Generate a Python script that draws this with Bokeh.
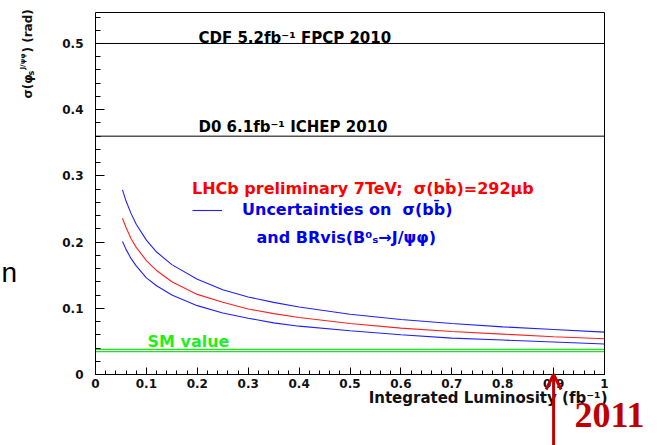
from bokeh.plotting import figure
from bokeh.models import (Range1d, FixedTicker, Label, Arrow, OpenHead, Legend,
                          LegendItem, LinearAxis)
from bokeh.embed import file_html
from bokeh.resources import INLINE

# ---------------- data ----------------
lumi = [0.053, 0.06, 0.07, 0.08, 0.1, 0.12, 0.15, 0.2, 0.25, 0.3, 0.35, 0.4,
        0.5, 0.6, 0.7, 0.8, 0.9, 1.0]
sigma_central = [0.236, 0.222, 0.205, 0.192, 0.172, 0.157, 0.140, 0.121, 0.109,
                 0.099, 0.092, 0.086, 0.077, 0.070, 0.065, 0.061, 0.057, 0.054]
sigma_upper = [0.279, 0.262, 0.243, 0.227, 0.203, 0.185, 0.166, 0.144, 0.128,
               0.117, 0.109, 0.102, 0.091, 0.083, 0.077, 0.072, 0.068, 0.064]
sigma_lower = [0.201, 0.189, 0.175, 0.164, 0.146, 0.134, 0.120, 0.104, 0.093,
               0.085, 0.078, 0.073, 0.066, 0.060, 0.055, 0.052, 0.049, 0.046]
cdf_value = 0.5
d0_value = 0.36
sm_band = [0.0346, 0.038]
arrow_lumi = 0.9

x_bounds = [0.0, 1.0]
y_bounds = [0.0, 0.5468]
x_ticks = [0, 0.1, 0.2, 0.3, 0.4, 0.5, 0.6, 0.7, 0.8, 0.9, 1.0]
x_tick_labels = ["0", "0.1", "0.2", "0.3", "0.4", "0.5", "0.6", "0.7", "0.8", "0.9", "1"]
y_ticks = [0, 0.1, 0.2, 0.3, 0.4, 0.5]
y_tick_labels = ["0", "0.1", "0.2", "0.3", "0.4", "0.5"]
x_minor = [round(i * 0.02, 2) for i in range(51)]
y_minor = [round(i * 0.02, 2) for i in range(28)]

# ---------------- geometry (screen px of the axis box) ----------------
W, H = 658, 445
FL, FR, FT, FB = 95, 604, 12, 374


def dx(px):
    return x_bounds[0] + (px - FL) / (FR - FL) * (x_bounds[1] - x_bounds[0])


def dy(py):
    return y_bounds[0] + (FB - py) / (FB - FT) * (y_bounds[1] - y_bounds[0])


p = figure(width=W, height=H, output_backend="svg", toolbar_location=None,
           x_range=Range1d(dx(0), dx(W)), y_range=Range1d(dy(H), dy(0)),
           x_axis_location=None, y_axis_location=None,
           min_border=0, min_border_left=0, min_border_right=0,
           min_border_top=0, min_border_bottom=0)
p.background_fill_color = "white"
p.border_fill_color = "white"
p.outline_line_color = None
p.grid.visible = False

FONT = "DejaVu Sans"


def style_axis(ax, ticks, labels, minor, tin, mtin):
    ax.ticker = FixedTicker(ticks=ticks, minor_ticks=minor)
    if labels:
        ax.major_label_overrides = {t: l for t, l in zip(ticks, labels)}
    ax.major_tick_in = tin
    ax.major_tick_out = 0
    ax.minor_tick_in = mtin
    ax.minor_tick_out = 0
    ax.axis_line_color = "black"
    ax.axis_line_width = 1
    ax.major_tick_line_color = "black"
    ax.minor_tick_line_color = "black"
    ax.major_label_text_font = FONT
    ax.major_label_text_font_style = "bold"
    ax.major_label_text_font_size = "12px"
    ax.major_label_text_color = "#111111"


xaxis = LinearAxis(fixed_location=y_bounds[0], bounds=tuple(x_bounds))
style_axis(xaxis, x_ticks, x_tick_labels, x_minor, 7, 4)
xaxis.major_label_standoff = 4
p.add_layout(xaxis, "below")

yaxis = LinearAxis(fixed_location=x_bounds[0], bounds=tuple(y_bounds))
style_axis(yaxis, y_ticks, y_tick_labels, y_minor, 9, 5)
yaxis.major_label_standoff = 12
p.add_layout(yaxis, "left")

top = LinearAxis(fixed_location=y_bounds[1], bounds=tuple(x_bounds))
style_axis(top, [], None, [], 0, 0)
top.major_label_text_font_size = "0px"
p.add_layout(top, "above")

right = LinearAxis(fixed_location=x_bounds[1], bounds=tuple(y_bounds))
style_axis(right, [], None, [], 0, 0)
right.major_label_text_font_size = "0px"
p.add_layout(right, "right")

# reference lines
p.segment(x0=x_bounds[0], x1=x_bounds[1], y0=[cdf_value, d0_value],
          y1=[cdf_value, d0_value], line_color="black", line_width=1)
p.segment(x0=x_bounds[0], x1=x_bounds[1], y0=sm_band, y1=sm_band,
          line_color="#22e022", line_width=1.2)

# curves
r_up = p.line(lumi, sigma_upper, line_color="#2020ff", line_width=1.1)
p.line(lumi, sigma_lower, line_color="#2020ff", line_width=1.1)
p.line(lumi, sigma_central, line_color="#ff2020", line_width=1.1)

# legend
leg = Legend(items=[LegendItem(label="Uncertainties on  σ(bb̄)", renderers=[r_up])],
             location=(192, H - 219), orientation="vertical",
             title="LHCb preliminary 7TeV;  σ(bb̄)=292μb",
             title_text_color="#ff0000", title_text_font=FONT,
             title_text_font_style="bold", title_text_font_size="16px",
             title_standoff=2,
             label_text_color="#0000ee", label_text_font=FONT,
             label_text_font_style="bold", label_text_font_size="16px",
             glyph_width=30, glyph_height=14, label_standoff=20, label_height=18,
             padding=0, margin=0, spacing=0,
             border_line_alpha=0, background_fill_alpha=0)
p.add_layout(leg)


def text(px, py, s, size, color="#111111", align="left", font=FONT, style="bold", angle=0.0):
    p.add_layout(Label(x=dx(px), y=dy(py), text=s, angle=angle,
                       text_font=font, text_font_style=style, text_font_size=size,
                       text_color=color, text_align=align, text_baseline="middle"))


text(256, 237, "and BRvis(B⁰ₛ→J/ψφ)", "16px", "#0000ee")

# experiment labels
text(198, 37.5, "CDF 5.2fb⁻¹ FPCP 2010", "15px", "black")
text(198, 126.5, "D0 6.1fb⁻¹ ICHEP 2010", "15px", "black")
text(147, 341, "SM value", "16px", "#22ee22")

# axis titles
text(607, 397, "Integrated Luminosity (fb⁻¹)", "15px", align="right")
ang = 1.5707963
text(27, 98, "σ(φ", "12px", angle=ang)
text(31, 75, "s", "8px", angle=ang)
text(22, 69, "J/ψφ", "7px", angle=ang)
text(27, 52, ") (rad)", "12px", angle=ang)

# 2011 arrow overlay
p.add_layout(Arrow(x_start=arrow_lumi, y_start=dy(H + 5), x_end=arrow_lumi, y_end=y_bounds[0],
                   line_color="#c00000", line_width=3,
                   end=OpenHead(size=15, line_color="#c00000", line_width=3)))
text(574, 414, "2011", "36px", "#c00000", font="Liberation Serif")

# slide letter at the left edge
text(1, 272, "n", "28px", "black", font="Liberation Sans", style="normal")

open("out.html", "w").write(file_html(p, INLINE))
